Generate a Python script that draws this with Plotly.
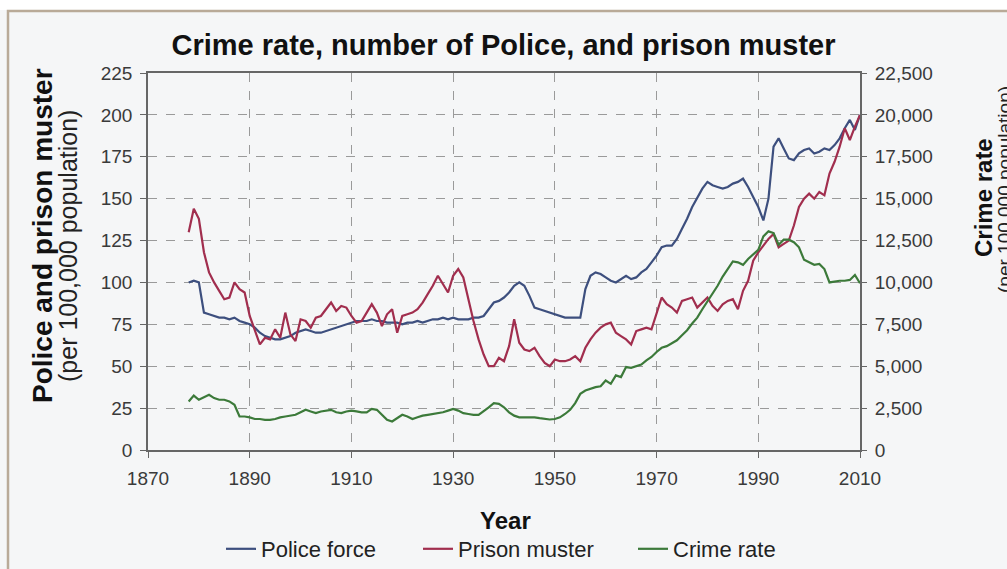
import plotly.graph_objects as go

years = list(range(1878, 2011))

police = [100, 101, 100, 82, 81, 80, 79, 79, 78, 79, 77, 76, 75, 73, 70, 68, 67, 66, 66, 67,
          68, 70, 71, 72, 71, 70, 70, 71, 72, 73, 74, 75, 76, 77, 77, 77, 78, 77, 77, 76,
          76, 76, 75, 76, 76, 77, 76, 77, 78, 78, 79, 78, 79, 78, 78, 78, 79, 79, 80, 84,
          88, 89, 91, 94, 98, 100, 98, 92, 85, 84, 83, 82, 81, 80, 79, 79, 79, 79, 96, 104,
          106, 105, 103, 101, 100, 102, 104, 102, 103, 106, 108, 112, 116, 121, 122, 122, 126, 132, 138, 145,
          151, 156, 160, 158, 157, 156, 157, 159, 160, 162, 157, 151, 145, 137, 150, 181, 186, 180, 174, 173,
          177, 179, 180, 177, 178, 180, 179, 182, 186, 192, 197, 191, 200]

prison = [130, 144, 138, 118, 106, 100, 95, 90, 91, 100, 96, 94, 80, 72, 63, 67, 66, 72, 67, 82,
          69, 65, 78, 77, 73, 79, 80, 84, 88, 83, 86, 85, 80, 76, 77, 82, 87, 82, 74, 81,
          84, 70, 80, 81, 82, 84, 88, 93, 98, 104, 99, 94, 104, 108, 103, 90, 77, 66, 57, 50,
          50, 55, 53, 62, 78, 64, 60, 59, 61, 56, 52, 50, 54, 53, 53, 54, 56, 53, 61, 66,
          70, 73, 75, 76, 70, 68, 66, 63, 71, 72, 73, 72, 82, 91, 87, 85, 82, 89, 90, 91,
          85, 88, 91, 86, 83, 87, 89, 90, 84, 95, 101, 113, 118, 122, 126, 129, 121, 123, 125, 134,
          145, 150, 153, 150, 154, 152, 165, 172, 181, 192, 185, 193, 200]

crime = [2900, 3250, 3000, 3150, 3300, 3100, 3000, 3000, 2900, 2700, 2000, 2000, 1950, 1850, 1850, 1800, 1800, 1850, 1950, 2000,
         2050, 2100, 2250, 2400, 2300, 2200, 2300, 2350, 2400, 2250, 2200, 2300, 2350, 2300, 2250, 2250, 2450, 2400, 2100, 1800,
         1700, 1900, 2100, 2000, 1850, 1950, 2050, 2100, 2150, 2200, 2250, 2350, 2450, 2350, 2200, 2150, 2100, 2100, 2300, 2550,
         2800, 2750, 2550, 2250, 2050, 1950, 1950, 1950, 1950, 1900, 1880, 1820, 1850, 1950, 2150, 2400, 2800, 3350, 3550, 3650,
         3750, 3800, 4150, 3950, 4450, 4350, 4950, 4900, 5000, 5100, 5350, 5550, 5850, 6100, 6200, 6400, 6550, 6850, 7150, 7550,
         7900, 8400, 8850, 9350, 9800, 10350, 10800, 11250, 11200, 11050, 11400, 11650, 11950, 12750, 13050, 12950, 12250, 12550, 12550, 12400,
         12100, 11350, 11200, 11050, 11100, 10800, 10000, 10050, 10100, 10100, 10150, 10450, 9950]

x_ticks = [1870, 1890, 1910, 1930, 1950, 1970, 1990, 2010]
left_ticks = [0, 25, 50, 75, 100, 125, 150, 175, 200, 225]
right_ticks = [0, 2500, 5000, 7500, 10000, 12500, 15000, 17500, 20000, 22500]

FONT = "Liberation Sans, Arial, sans-serif"
BG = "#f5f6f7"
W, H = 1007, 569
L, R, T, B = 148, 860, 73, 450   # plot area in pixels
PW, PH = R - L, B - T


def px(x):
    return (x - L) / PW


def py(y):
    return (B - y) / PH


fig = go.Figure()
fig.add_trace(go.Scatter(x=years, y=police, name="Police force", mode="lines",
                         line=dict(color="#3d4f7e", width=2.2), legend="legend"))
fig.add_trace(go.Scatter(x=years, y=prison, name="Prison muster", mode="lines",
                         line=dict(color="#a12e4e", width=2.2), legend="legend2"))
fig.add_trace(go.Scatter(x=years, y=crime, name="Crime rate", mode="lines", yaxis="y2",
                         line=dict(color="#3c7a3a", width=2.2), legend="legend3"))

grid = dict(showgrid=True, gridcolor="#9a9a9a", griddash="dash", gridwidth=1)
leg = dict(orientation="h", xanchor="left", yref="container", y=(H - 549) / H, yanchor="middle",
           font=dict(family=FONT, size=22, color="#222222"), bgcolor="rgba(0,0,0,0)",
           borderwidth=0)

fig.update_layout(
    width=W, height=H,
    paper_bgcolor=BG, plot_bgcolor=BG,
    margin=dict(l=L, r=W - R, t=T, b=H - B, autoexpand=False),
    font=dict(family=FONT, size=19, color="#3a3a3a"),
    title=dict(text="<b>Crime rate, number of Police, and prison muster</b>",
               x=0.5, xref="container", xanchor="center", yref="container", y=1 - 45 / H,
               yanchor="middle", font=dict(family=FONT, size=29, color="#111111")),
    xaxis=dict(range=[1870, 2010], tickvals=x_ticks, ticks="outside", ticklen=6,
               tickcolor="#666666", showline=True, linecolor="#666666", linewidth=1.5,
               mirror=True, zeroline=False, ticklabelstandoff=4, automargin=False, **grid),
    yaxis=dict(range=[0, 225], tickvals=left_ticks, ticks="outside", ticklen=6,
               tickcolor="#666666", showline=True, linecolor="#666666", linewidth=1.5,
               mirror=True, zeroline=False, ticklabelstandoff=4, automargin=False, **grid),
    yaxis2=dict(range=[0, 22500], tickvals=right_ticks, overlaying="y", side="right",
                ticks="outside", ticklen=6, tickcolor="#666666", showgrid=False,
                tickformat=",d", zeroline=False, ticklabelstandoff=4, automargin=False),
    legend=dict(x=px(221), **leg),
    legend2=dict(x=px(418), **leg),
    legend3=dict(x=px(633), **leg),
    showlegend=True,
)

fig.add_annotation(text="<b>Year</b>", xref="paper", yref="paper", x=px(505), y=py(520),
                   xanchor="center", yanchor="middle", showarrow=False,
                   font=dict(family=FONT, size=24, color="#111111"))
fig.add_annotation(text="<b>Police and prison muster</b>", xref="paper", yref="paper",
                   x=px(42), y=py(236), textangle=-90,
                   xanchor="center", yanchor="middle", showarrow=False,
                   font=dict(family=FONT, size=28, color="#111111"))
fig.add_annotation(text="(per 100,000 population)", xref="paper", yref="paper",
                   x=px(68), y=py(246), textangle=-90,
                   xanchor="center", yanchor="middle", showarrow=False,
                   font=dict(family=FONT, size=25, color="#222222"))
fig.add_annotation(text="<b>Crime rate</b>", xref="paper", yref="paper",
                   x=px(983), y=py(198), textangle=-90,
                   xanchor="center", yanchor="middle", showarrow=False,
                   font=dict(family=FONT, size=24, color="#111111"))
fig.add_annotation(text="(per 100,000 population)", xref="paper", yref="paper",
                   x=px(1004), y=py(190), textangle=-90,
                   xanchor="center", yanchor="middle", showarrow=False,
                   font=dict(family=FONT, size=19, color="#222222"))

# outer frame (white strip above, tan border)
fig.add_shape(type="rect", xref="paper", yref="paper",
              x0=px(0), x1=px(W), y0=py(10), y1=py(-5),
              fillcolor="white", line=dict(width=0), layer="below")
fig.add_shape(type="rect", xref="paper", yref="paper",
              x0=px(8), x1=px(W + 20), y0=py(H + 20), y1=py(11),
              fillcolor="rgba(0,0,0,0)", line=dict(color="#b9aa98", width=2.5), layer="below")

fig.write_html("out.html")
